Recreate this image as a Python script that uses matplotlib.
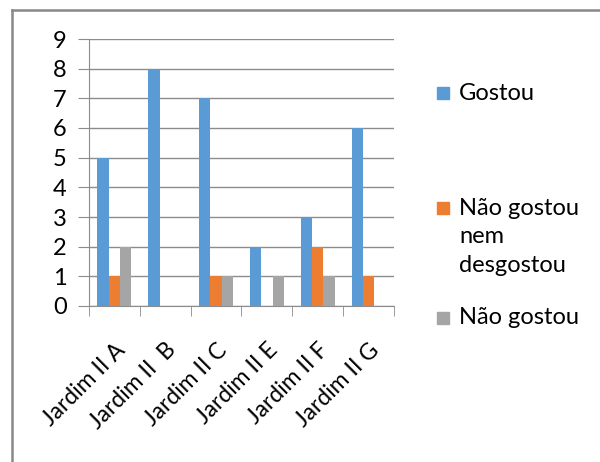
import numpy as np
import matplotlib.pyplot as plt
from matplotlib.patches import Rectangle
from matplotlib.lines import Line2D

plt.rcParams['font.family'] = ['Lato', 'DejaVu Sans']

# Data
categories = ["Jardim II A", "Jardim II  B", "Jardim II C", "Jardim II E", "Jardim II F", "Jardim II G"]
gostou = [5, 8, 7, 2, 3, 6]
neutro = [1, 0, 1, 0, 2, 1]
nao_gostou = [2, 0, 1, 1, 1, 0]
series_names = ["Gostou", "Não gostou\nnem\ndesgostou", "Não gostou"]
colors = ["#5B9BD5", "#ED7D31", "#A5A5A5"]

fig = plt.figure(figsize=(6, 4.62), dpi=100)
ax = fig.add_axes([89 / 600, 156 / 462, 305 / 600, 267 / 462])

x = np.arange(len(categories))
w = 0.222
for i, vals in enumerate([gostou, neutro, nao_gostou]):
    ax.bar(x + (i - 1) * w, vals, width=w, color=colors[i], zorder=3)

ax.set_xlim(-0.5, len(categories) - 0.5)
ax.set_ylim(0, 9)
ax.set_yticks(range(10))
ax.grid(axis='y', color='#8C8C8C', linewidth=1, zorder=0)
for s in ['top', 'right']:
    ax.spines[s].set_visible(False)
ax.spines['left'].set_color('#8C8C8C')
ax.spines['bottom'].set_color('#8C8C8C')
ax.tick_params(axis='y', length=8, color='#8C8C8C', labelsize=17, pad=8)

# category boundary ticks
ax.set_xticks(np.arange(len(categories) + 1) - 0.5, minor=True)
ax.tick_params(axis='x', which='minor', length=7, color='#8C8C8C')
ax.set_xticks(x)
ax.set_xticklabels(categories, rotation=45, ha='right', rotation_mode='anchor', fontsize=16.5)
ax.tick_params(axis='x', which='major', length=0, pad=24)

# legend drawn by hand to match spacing
leg_y = [93, 208, 318]
line_gap = 28.5
for name, c, yy in zip(series_names, colors, leg_y):
    fig.patches.append(Rectangle((437 / 600, 1 - (yy + 6) / 462), 12 / 600, 12 / 462,
                                 transform=fig.transFigure, color=c))
    for k, line in enumerate(name.split("\n")):
        fig.text(459 / 600, 1 - (yy + k * line_gap) / 462, line, fontsize=17,
                 va='center', ha='left')

# outer frame (top and left only)
fig.add_artist(Line2D([12 / 600, 12 / 600], [0, 1 - 10 / 462], transform=fig.transFigure,
                      color='#888888', linewidth=1.8))
fig.add_artist(Line2D([12 / 600, 1], [1 - 10 / 462, 1 - 10 / 462], transform=fig.transFigure,
                      color='#888888', linewidth=1.8))

fig.savefig("out.png", dpi=100)
